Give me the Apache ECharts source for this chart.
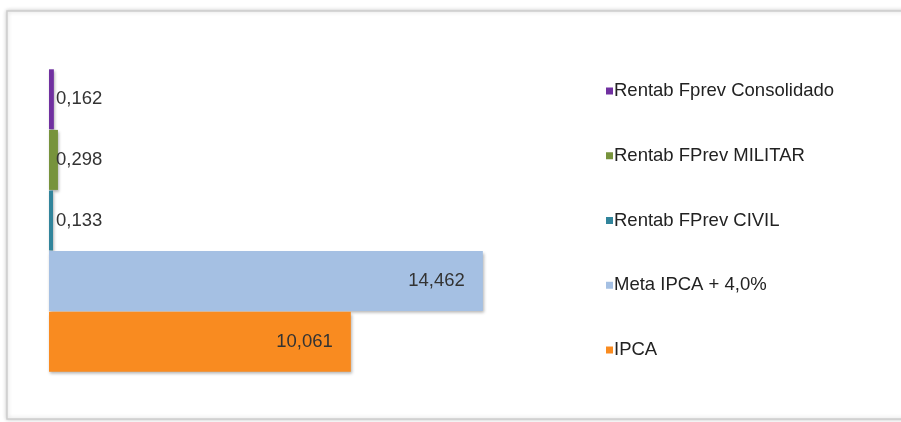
<!DOCTYPE html>
<html>
<head>
<meta charset="utf-8">
<script src="https://cdn.jsdelivr.net/npm/echarts@6/dist/echarts.min.js"></script>
<style>
html,body{margin:0;padding:0;background:#fff;}
#c{width:901px;height:422px;}
</style>
</head>
<body>
<div id="c"></div>
<script>
var categories = ['Rentab Fprev Consolidado', 'Rentab FPrev MILITAR', 'Rentab FPrev CIVIL', 'Meta IPCA + 4,0%', 'IPCA'];
var values = [0.162, 0.298, 0.133, 14.462, 10.061];
var colors = ['#7030a0', '#77933c', '#31849b', '#a5c0e3', '#f98b20'];

function fmt(v) { return v.toFixed(3).replace('.', ','); }

var font = "'Liberation Sans', Arial, sans-serif";
var series = categories.map(function (name, i) {
  var data = categories.map(function (c, j) { return j === i ? values[i] : '-'; });
  var big = values[i] > 5;
  return {
    name: name,
    type: 'bar',
    stack: 'all',
    barCategoryGap: '1%',
    data: data,
    itemStyle: {
      color: colors[i],
      shadowColor: 'rgba(0,0,0,0.3)',
      shadowBlur: 3,
      shadowOffsetX: 1,
      shadowOffsetY: 2
    },
    label: {
      show: true,
      position: big ? 'insideRight' : 'insideLeft',
      distance: big ? 18 : 7,
      formatter: function (p) { return fmt(p.value); },
      color: '#333',
      fontSize: 18.5,
      fontFamily: font
    }
  };
});

var chart = echarts.init(document.getElementById('c'));
chart.setOption({
  animation: false,
  backgroundColor: '#fff',
  graphic: [{
    type: 'rect',
    shape: { x: 7, y: 11, width: 1000, height: 408 },
    style: { fill: '#fff', stroke: '#cdcdcd', lineWidth: 1.5, shadowBlur: 4, shadowColor: 'rgba(0,0,0,0.2)', shadowOffsetX: 0, shadowOffsetY: 0 },
    z: -10
  }],
  grid: { left: 49, top: 69, width: 600, height: 303 },
  xAxis: { type: 'value', min: 0, max: 20, show: false },
  yAxis: { type: 'category', data: categories, inverse: true, show: false },
  legend: {
    orient: 'vertical',
    left: 601,
    top: 76,
    data: categories,
    icon: 'rect',
    itemWidth: 7,
    itemHeight: 7,
    itemGap: 44.75,
    textStyle: { fontSize: 18.5, fontFamily: font, color: '#222', lineHeight: 20, padding: [0, 0, 0, -4] }
  },
  series: series
});
</script>
</body>
</html>
